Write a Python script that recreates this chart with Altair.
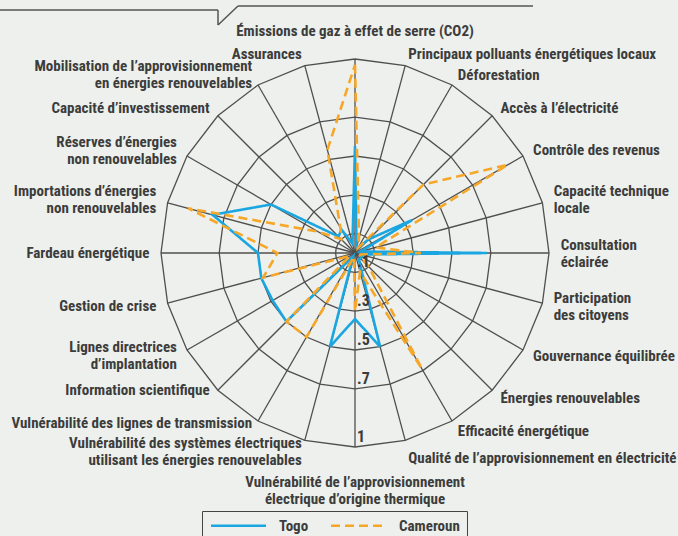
import altair as alt
import pandas as pd

# ---------------- data ----------------
labels = [
    "Émissions de gaz à effet de serre (CO2)",
    "Principaux polluants énergétiques locaux",
    "Déforestation",
    "Accès à l’électricité",
    "Contrôle des revenus",
    "Capacité technique\nlocale",
    "Consultation\néclairée",
    "Participation\ndes citoyens",
    "Gouvernance équilibrée",
    "Énergies renouvelables",
    "Efficacité énergétique",
    "Qualité de l’approvisionnement en électricité",
    "Vulnérabilité de l’approvisionnement\nélectrique d’origine thermique",
    "Vulnérabilité des systèmes électriques\nutilisant les énergies renouvelables",
    "Vulnérabilité des lignes de transmission",
    "Information scientifique",
    "Lignes directrices\nd’implantation",
    "Gestion de crise",
    "Fardeau énergétique",
    "Importations d’énergies\nnon renouvelables",
    "Réserves d’énergies\nnon renouvelables",
    "Capacité d’investissement",
    "Mobilisation de l’approvisionnement\nen énergies renouvelables",
    "Assurances",
]
togo = [0.55, 0.03, 0.03, 0.10, 0.34, 0.03, 0.68, 0.03, 0.04, 0.04, 0.04, 0.50,
        0.34, 0.50, 0.02, 0.50, 0.49, 0.50, 0.50, 0.76, 0.50, 0.12, 0.14, 0.05]
cameroun = [0.97, 0.08, 0.03, 0.50, 0.91, 0.11, 0.34, 0.03, 0.03, 0.10, 0.69, 0.10,
            0.30, 0.02, 0.50, 0.50, 0.03, 0.49, 0.40, 0.89, 0.22, 0.10, 0.15, 0.55]
series_names = ["Togo", "Cameroun"]
ring_values = [0.1, 0.3, 0.5, 0.7, 1.0]
ring_texts = [".1", ".3", ".5", ".7", "1"]

# ---------------- style ----------------
series_colors = ["#1aa6e0", "#f7a727"]
FONT = "Liberation Sans Narrow, Roboto Condensed, DejaVu Sans Condensed, Arial Narrow, sans-serif"
TEXT = "#3c3c3c"
GRID = "#4f4f4f"
BG = "#edf0ec"
W, H = 678, 536
CX, CY, R = 355, 253, 194
N = len(labels)
LH = 17

xs = alt.Scale(domain=[-CX / R, (W - CX) / R], nice=False, zero=False)
ys = alt.Scale(domain=[-(H - CY) / R, CY / R], nice=False, zero=False)
X = alt.X("px:Q", scale=xs, axis=None)
Y = alt.Y("py:Q", scale=ys, axis=None)
ang = "(datum.k * PI / 12)"

# ---------------- tables ----------------
series_df = pd.DataFrame(
    [{"series": s, "k": k, "v": vals[k % N]}
     for s, vals in zip(series_names, [togo, cameroun]) for k in range(N + 1)]
)
grid_df = pd.DataFrame([{"ring": r, "k": k} for r in ring_values for k in range(N + 1)])
spoke_df = pd.DataFrame({"k": list(range(N))})
label_df = pd.DataFrame({"k": list(range(N)), "label": labels})
ringlab_df = pd.DataFrame({"v": ring_values, "t": ring_texts})

# ---------------- layers ----------------
spokes = alt.Chart(spoke_df).transform_calculate(
    px="0", py="0", qx=f"sin({ang})", qy=f"cos({ang})"
).mark_rule(color=GRID, strokeWidth=1.3).encode(x=X, y=Y, x2="qx:Q", y2="qy:Q")

rings = alt.Chart(grid_df).transform_calculate(
    px=f"datum.ring * sin({ang})", py=f"datum.ring * cos({ang})"
).mark_line(color=GRID, strokeWidth=1.3).encode(x=X, y=Y, detail="ring:N", order="k:Q")

legend = alt.Legend(
    title=None, orient="none", legendX=202, legendY=511, direction="horizontal",
    strokeColor="#444444", padding=7, symbolType="M-1,0H9", symbolSize=121,
    symbolStrokeWidth=2.6, labelFont=FONT, labelFontSize=15, labelFontWeight="bold",
    labelColor=TEXT, columnPadding=16, labelOffset=55, symbolOffset=0,
)
color = alt.Color("series:N", scale=alt.Scale(domain=series_names, range=series_colors), legend=legend)
dash = alt.StrokeDash("series:N", scale=alt.Scale(domain=series_names, range=[[1, 0], [9, 5]]), legend=legend)


def series_layer(name):
    return alt.Chart(series_df).transform_filter(
        alt.datum.series == name
    ).transform_calculate(
        px=f"datum.v * sin({ang})", py=f"datum.v * cos({ang})"
    ).mark_line(strokeWidth=2.6).encode(x=X, y=Y, order="k:Q", color=color, strokeDash=dash)


def text_layer(cond, radius, align, baseline, dy=0):
    return alt.Chart(label_df).transform_filter(cond).transform_calculate(
        px=f"{radius} * sin({ang})", py=f"{radius} * cos({ang})"
    ).mark_text(
        align=align, baseline=baseline, font=FONT, fontSize=15, fontWeight="bold",
        color=TEXT, lineBreak="\n", lineHeight=LH, dy=dy,
    ).encode(x=X, y=Y, text="label:N")


single = "indexof(datum.label, '\\n') < 0"
multi = "indexof(datum.label, '\\n') >= 0"
lab_layers = [
    text_layer(f"datum.k > 0 && datum.k < 11 && {single}", 1.06, "left", "middle"),
    text_layer("datum.k == 11", 1.06, "left", "middle", 6),
    text_layer(f"datum.k > 0 && datum.k < 12 && {multi}", 1.06, "left", "middle", -LH / 2),
    text_layer(f"datum.k > 15 && {single}", 1.06, "right", "middle"),
    text_layer(f"datum.k >= 14 && datum.k <= 15", 1.06, "right", "middle", -8),
    text_layer(f"datum.k > 12 && {multi}", 1.06, "right", "middle", -LH / 2),
    text_layer("datum.k == 0", 1.118, "center", "alphabetic"),
    text_layer("datum.k == 12", 1.206, "center", "alphabetic"),
]

ring_labels = alt.Chart(ringlab_df).transform_calculate(
    px="0", py="-datum.v"
).mark_text(
    align="left", baseline="bottom", dx=2, dy=-2, font=FONT, fontSize=16,
    fontWeight="bold", color=TEXT,
).encode(x=X, y=Y, text="t:N")


def deco(x1, y1, x2, y2):
    return alt.Chart(alt.Data(values=[{}])).mark_rule(color="#555555", strokeWidth=1.5).encode(
        x=alt.value(x1), y=alt.value(y1), x2=alt.value(x2), y2=alt.value(y2)
    )


decor = [deco(0, 10, 218, 10), deco(218, 10, 218, 25), deco(218, 25, 238, 6), deco(238, 6, 533, 6)]

chart = alt.layer(
    spokes, rings, series_layer("Togo"), series_layer("Cameroun"),
    ring_labels, *lab_layers, *decor,
).properties(
    width=W, height=H, padding=0, background=BG,
    autosize=alt.AutoSizeParams(type="none"),
).configure_view(stroke=None)

chart.save("out.html", embed_options={"renderer": "svg", "actions": False})
